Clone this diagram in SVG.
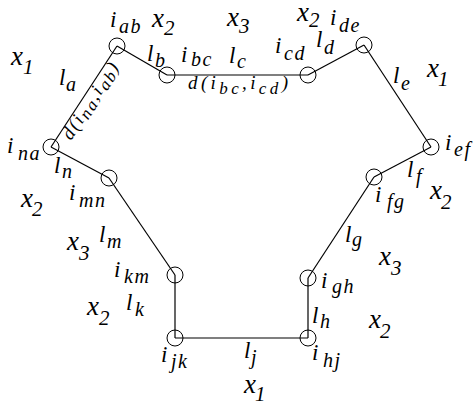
<svg xmlns="http://www.w3.org/2000/svg" width="476" height="408" viewBox="0 0 476 408">
<style>
text{font-family:'Liberation Serif',serif;font-style:italic;fill:#000}
.m{font-size:23px}
.x{font-size:27px}
.s{font-size:20px;letter-spacing:1.5px}
.n{font-size:21px}
.d{font-size:19px}
.ds{font-size:17px}
.node{fill:none;stroke:#000;stroke-width:1}
.edge{stroke:#000;stroke-width:1.2;fill:none}
</style>
<rect width="476" height="408" fill="#fff"/>
<g id="connectors">
<line class="edge" x1="117" y1="46" x2="167" y2="75"/>
<line class="edge" x1="167" y1="75" x2="308" y2="75"/>
<line class="edge" x1="308" y1="75" x2="364" y2="45"/>
<line class="edge" x1="364" y1="45" x2="431" y2="147"/>
<line class="edge" x1="431" y1="147" x2="374" y2="177"/>
<line class="edge" x1="374" y1="177" x2="308" y2="278"/>
<line class="edge" x1="308" y1="278" x2="308" y2="338"/>
<line class="edge" x1="308" y1="338" x2="175" y2="338"/>
<line class="edge" x1="175" y1="338" x2="175" y2="275"/>
<line class="edge" x1="175" y1="275" x2="109" y2="178"/>
<line class="edge" x1="109" y1="178" x2="51" y2="147"/>
<line class="edge" x1="51" y1="147" x2="117" y2="46"/>
</g>
<g id="node-ab"><circle class="node" cx="117" cy="46" r="8"/><text class="m" x="110" y="27">i<tspan class="s" x="119" y="33">ab</tspan></text></g>
<g id="node-bc"><circle class="node" cx="167" cy="75" r="8"/><text class="m" x="181" y="62">i<tspan class="s" x="191" y="66">bc</tspan></text></g>
<g id="node-cd"><circle class="node" cx="308" cy="75" r="8"/><text class="m" x="275" y="53">i<tspan class="s" x="284" y="60">cd</tspan></text></g>
<g id="node-de"><circle class="node" cx="364" cy="45" r="8"/><text class="m" x="330" y="25">i<tspan class="s" x="339" y="32">de</tspan></text></g>
<g id="node-ef"><circle class="node" cx="431" cy="147" r="8"/><text class="m" x="445" y="150">i<tspan class="s" x="454" y="156">ef</tspan></text></g>
<g id="node-fg"><circle class="node" cx="374" cy="177" r="8"/><text class="m" x="375" y="202">i<tspan class="s" x="387" y="208">fg</tspan></text></g>
<g id="node-gh"><circle class="node" cx="308" cy="278" r="8"/><text class="m" x="321" y="288">i<tspan class="s" x="332" y="293">gh</tspan></text></g>
<g id="node-hj"><circle class="node" cx="308" cy="338" r="8"/><text class="m" x="312" y="360">i<tspan class="s" x="323" y="367">hj</tspan></text></g>
<g id="node-jk"><circle class="node" cx="175" cy="338" r="8"/><text class="m" x="161" y="362">i<tspan class="s" x="171" y="368">jk</tspan></text></g>
<g id="node-km"><circle class="node" cx="175" cy="275" r="8"/><text class="m" x="114" y="277">i<tspan class="s" x="124" y="283">km</tspan></text></g>
<g id="node-mn"><circle class="node" cx="109" cy="178" r="8"/><text class="m" x="69" y="200">i<tspan class="s" x="79" y="207">mn</tspan></text></g>
<g id="node-na"><circle class="node" cx="51" cy="147" r="8"/><text class="m" x="7" y="153">i<tspan class="s" x="18" y="160">na</tspan></text></g>
<g id="edge-labels">
<text class="m" x="59" y="85">l<tspan class="s" x="66" y="91">a</tspan></text>
<text class="m" x="147" y="61">l<tspan class="s" x="155" y="67">b</tspan></text>
<text class="m" x="229" y="63">l<tspan class="s" x="237" y="68">c</tspan></text>
<text class="m" x="316" y="47">l<tspan class="s" x="324" y="54">d</tspan></text>
<text class="m" x="393" y="83">l<tspan class="s" x="401" y="90">e</tspan></text>
<text class="m" x="407" y="177">l<tspan class="s" x="416" y="183">f</tspan></text>
<text class="m" x="345" y="242">l<tspan class="s" x="352" y="246">g</tspan></text>
<text class="m" x="312" y="323">l<tspan class="s" x="320" y="328">h</tspan></text>
<text class="m" x="244" y="358">l<tspan class="s" x="251" y="364">j</tspan></text>
<text class="m" x="126" y="310">l<tspan class="s" x="135" y="316">k</tspan></text>
<text class="m" x="99" y="242">l<tspan class="s" x="107" y="248">m</tspan></text>
<text class="m" x="54" y="173">l<tspan class="s" x="62" y="178">n</tspan></text>
<text class="d" x="188" y="89" textLength="100">d(i<tspan class="ds" dy="5">bc</tspan><tspan dy="-5">,i</tspan><tspan class="ds" dy="5">cd</tspan><tspan dy="-5">)</tspan></text>
<text class="d" transform="translate(71,141) rotate(-56.8)" textLength="88">d(i<tspan class="ds" dy="3">na</tspan><tspan dy="-3">,i</tspan><tspan class="ds" dy="3">ab</tspan><tspan dy="-3">)</tspan></text>
</g>
<g id="regions">
<text class="x" x="11" y="65">x<tspan class="n" x="23" y="74">1</tspan></text>
<text class="x" x="152" y="27">x<tspan class="n" x="164" y="35">2</tspan></text>
<text class="x" x="227" y="26">x<tspan class="n" x="239" y="33">3</tspan></text>
<text class="x" x="297" y="21">x<tspan class="n" x="309" y="27">2</tspan></text>
<text class="x" x="427" y="77">x<tspan class="n" x="438" y="86">1</tspan></text>
<text class="x" x="430" y="199">x<tspan class="n" x="441" y="209">2</tspan></text>
<text class="x" x="379" y="265">x<tspan class="n" x="391" y="275">3</tspan></text>
<text class="x" x="369" y="328">x<tspan class="n" x="380" y="338">2</tspan></text>
<text class="x" x="244" y="393">x<tspan class="n" x="255" y="401">1</tspan></text>
<text class="x" x="87" y="315">x<tspan class="n" x="99" y="325">2</tspan></text>
<text class="x" x="67" y="250">x<tspan class="n" x="79" y="260">3</tspan></text>
<text class="x" x="21" y="207">x<tspan class="n" x="32" y="216">2</tspan></text>
</g>
</svg>
